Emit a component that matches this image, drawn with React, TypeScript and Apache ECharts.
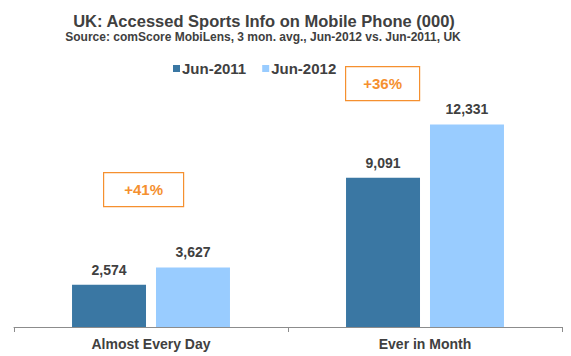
import React, { useEffect, useRef } from "react";
import * as echarts from "echarts";

const categories = ["Almost Every Day", "Ever in Month"];
const seriesNames = ["Jun-2011", "Jun-2012"];
const jun2011 = [2574, 9091];
const jun2012 = [3627, 12331];
const growthLabels = ["+41%", "+36%"];
const titleText = "UK: Accessed Sports Info on Mobile Phone (000)";
const subtitleText = "Source: comScore MobiLens, 3 mon. avg., Jun-2012 vs. Jun-2011, UK";

const FONT = "'Liberation Sans', Arial, sans-serif";
const TEXT = "#404040";
const ORANGE = "#F5902F";

export default function App() {
  const ref = useRef<HTMLDivElement>(null);
  useEffect(() => {
    if (!ref.current) return;
    const chart = echarts.init(ref.current, undefined, { renderer: "svg" });
    const labelStyle = {
      show: true,
      position: "top" as const,
      distance: 8,
      color: TEXT,
      fontFamily: FONT,
      fontWeight: "bold" as const,
      fontSize: 14,
      formatter: (p: any) => Number(p.value).toLocaleString("en-US"),
    };
    const box = (x: number, y: number, w: number, h: number, t: string) => ({
      type: "group",
      left: x,
      top: y,
      children: [
        {
          type: "rect",
          shape: { x: 0, y: 0, width: w, height: h },
          style: { fill: "#fff", stroke: ORANGE, lineWidth: 1.2 },
        },
        {
          type: "text",
          x: w / 2,
          y: h / 2,
          style: {
            text: t,
            fill: ORANGE,
            font: `bold 15px ${FONT}`,
            align: "center",
            verticalAlign: "middle",
          },
        },
      ],
    });
    chart.setOption({
      animation: false,
      backgroundColor: "#fff",
      legend: {
        data: seriesNames,
        top: 56,
        left: 168,
        itemWidth: 7,
        itemHeight: 7,
        itemGap: 16,
        icon: "rect",
        textStyle: {
          color: TEXT,
          fontFamily: FONT,
          fontWeight: "bold",
          fontSize: 15,
          padding: [0, 0, 0, -3],
        },
      },
      grid: { left: 14, right: 9, top: 97, bottom: 29, containLabel: false },
      xAxis: {
        type: "category",
        data: categories,
        axisLine: { lineStyle: { color: "#8c8c8c", width: 1 } },
        axisTick: { show: true, length: 5, lineStyle: { color: "#8c8c8c" } },
        axisLabel: { color: TEXT, fontFamily: FONT, fontWeight: "bold", fontSize: 14, margin: 10 },
      },
      yAxis: {
        type: "value",
        min: 0,
        max: 14000,
        show: false,
        splitLine: { show: false },
      },
      series: [
        {
          name: seriesNames[0],
          type: "bar",
          data: jun2011,
          barWidth: "27%",
          barGap: "13.5%",
          itemStyle: { color: "#3A77A3" },
          label: labelStyle,
        },
        {
          name: seriesNames[1],
          type: "bar",
          data: jun2012,
          barWidth: "27%",
          itemStyle: { color: "#99CCFF" },
          label: labelStyle,
        },
      ],
      graphic: [
        {
          type: "text",
          x: 264,
          y: 21,
          style: {
            text: titleText,
            fill: TEXT,
            font: `bold 16.5px ${FONT}`,
            align: "center",
            verticalAlign: "middle",
          },
        },
        {
          type: "text",
          x: 263,
          y: 37,
          style: {
            text: subtitleText,
            fill: TEXT,
            font: `bold 12px ${FONT}`,
            align: "center",
            verticalAlign: "middle",
          },
        },
        box(103, 172, 80, 34, growthLabels[0]),
        box(345, 66, 74, 34, growthLabels[1]),
      ],
    });
    return () => chart.dispose();
  }, []);
  return (
    <div
      ref={ref}
      style={{ position: "fixed", left: 0, top: 0, width: 571, height: 356 }}
    />
  );
}
